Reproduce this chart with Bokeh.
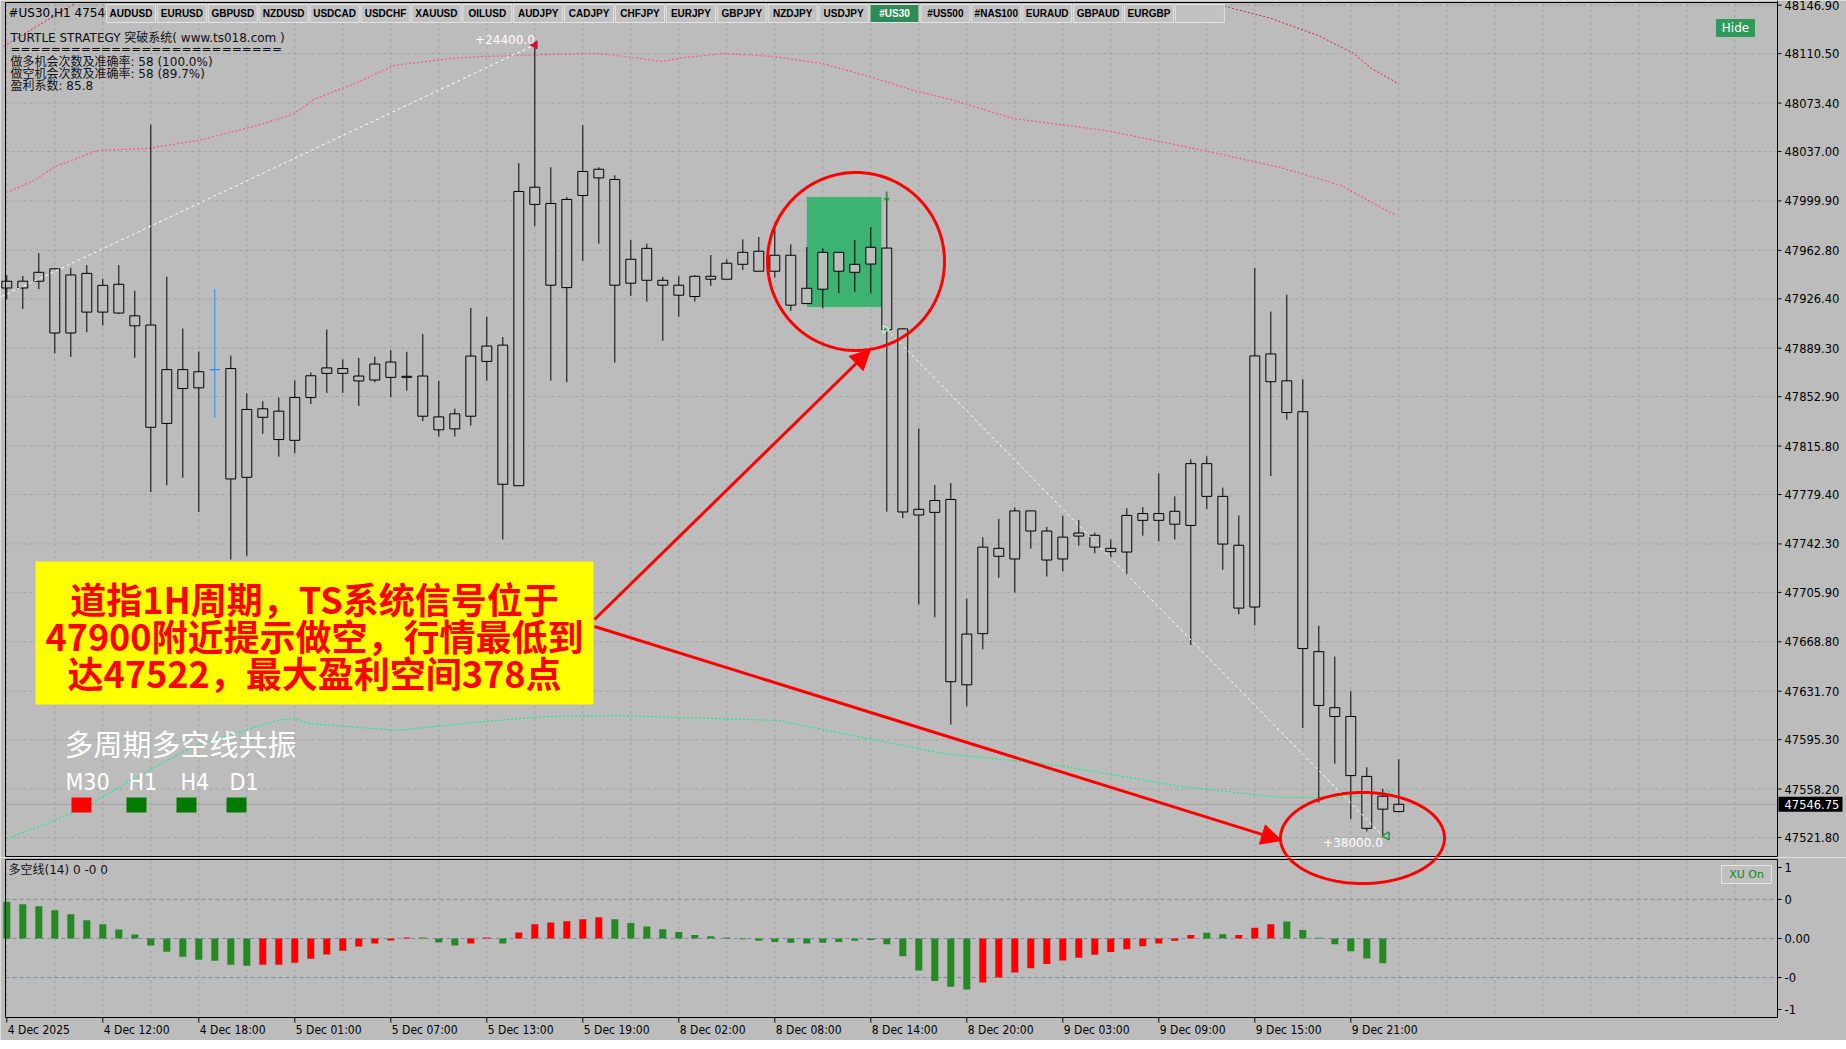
import numpy as np
from bokeh.plotting import figure
from bokeh.layouts import column
from bokeh.models import Range1d, BoxAnnotation, Label, Arrow, NormalHead, ColumnDataSource
from bokeh.core.properties import value
from bokeh.embed import file_html
from bokeh.resources import INLINE

# ---------------- data ----------------
opens = [47939.6, 47934.5, 47939.6, 47948.9, 47900.7, 47945.5, 47916.4, 47937.3, 47913.6, 47906.7,
         47832.8, 47873.2, 47859.5, 47873.2, 47874.0, 47792.3, 47843.8, 47842.0, 47820.1, 47852.3,
         47870.4, 47874.0, 47868.4, 47865.4, 47878.9, 47867.4, 47868.4, 47837.7, 47828.7, 47838.2,
         47879.4, 47891.6, 47786.0, 48010.2, 47998.0, 47934.8, 48004.0, 48023.7, 48016.0, 47938.1,
         47964.3, 47940.3, 47936.6, 47928.1, 47943.3, 47941.1, 47952.3, 47962.1, 47947.1, 47959.1,
         47922.8, 47933.6, 47961.3, 47946.3, 47952.5, 47964.5, 47903.8, 47764.0, 47766.0, 47775.7,
         47636.5, 47674.9, 47739.0, 47731.0, 47767.1, 47752.0, 47731.0, 47748.2, 47748.8, 47739.0,
         47736.2, 47760.0, 47765.1, 47757.1, 47756.2, 47802.6, 47778.0, 47741.3, 47694.9, 47885.0,
         47864.8, 47841.6, 47661.4, 47619.3, 47612.7, 47567.7, 47543.1, 47541.3]
highs = [47944.0, 47943.5, 47960.7, 47949.2, 47949.7, 47951.7, 47941.4, 47951.7, 47932.4, 48057.3,
         47943.0, 47904.1, 47886.8, 47933.7, 47883.7, 47855.4, 47849.5, 47852.3, 47865.2, 47871.1,
         47903.3, 47880.9, 47882.0, 47882.9, 47887.9, 47886.6, 47899.9, 47864.9, 47843.9, 47919.6,
         47912.9, 47897.7, 48028.2, 48117.1, 48025.2, 48002.8, 48056.7, 48025.2, 48019.2, 47970.5,
         47967.8, 47942.8, 47943.3, 47944.1, 47959.3, 47956.1, 47971.0, 47972.8, 47983.5, 47967.3,
         47965.3, 47964.3, 47961.3, 47970.5, 47980.3, 48002.0, 47904.1, 47829.0, 47786.6, 47788.0,
         47701.2, 47747.3, 47761.1, 47769.7, 47767.1, 47755.1, 47763.4, 47760.2, 47750.8, 47745.6,
         47769.1, 47770.0, 47795.2, 47778.0, 47805.8, 47808.1, 47784.6, 47763.7, 47949.6, 47916.8,
         47929.5, 47866.0, 47680.9, 47657.7, 47631.6, 47574.6, 47558.5, 47580.6]
lows = [47926.0, 47918.8, 47933.7, 47885.5, 47882.7, 47901.3, 47906.4, 47914.9, 47882.2, 47781.3,
        47786.4, 47792.1, 47766.3, 47837.1, 47730.6, 47733.4, 47825.0, 47807.8, 47810.4, 47847.4,
        47855.7, 47855.7, 47845.9, 47863.7, 47852.4, 47857.4, 47834.5, 47823.0, 47823.0, 47831.2,
        47864.9, 47745.6, 47786.0, 47981.0, 47864.9, 47863.7, 47954.8, 47967.8, 47878.6, 47928.6,
        47924.3, 47894.9, 47913.1, 47924.3, 47936.1, 47941.1, 47948.1, 47947.1, 47942.3, 47917.4,
        47922.8, 47919.1, 47930.6, 47931.6, 47930.4, 47766.5, 47761.7, 47696.9, 47687.2, 47606.7,
        47620.4, 47663.1, 47717.0, 47705.8, 47738.8, 47717.8, 47721.6, 47741.0, 47735.3, 47731.3,
        47718.7, 47748.5, 47744.2, 47745.6, 47666.4, 47768.6, 47723.0, 47689.5, 47681.2, 47793.3,
        47835.6, 47604.1, 47548.0, 47577.2, 47535.6, 47526.4, 47522.0, 47540.7]
closes = [47934.5, 47939.6, 47946.3, 47900.7, 47944.3, 47916.4, 47936.5, 47915.7, 47906.1, 47829.9,
          47873.2, 47859.0, 47871.6, 47873.2, 47791.1, 47843.3, 47837.4, 47820.7, 47852.3, 47868.6,
          47874.5, 47870.4, 47864.7, 47877.4, 47867.4, 47868.2, 47838.2, 47828.0, 47840.0, 47883.4,
          47890.9, 47787.1, 48007.0, 47997.3, 47936.6, 48001.0, 48022.0, 48017.2, 47936.6, 47956.1,
          47940.3, 47936.6, 47929.1, 47943.3, 47941.1, 47953.1, 47961.3, 47947.1, 47959.1, 47921.6,
          47934.3, 47961.3, 47947.1, 47952.3, 47965.1, 47903.2, 47766.3, 47768.3, 47774.9, 47638.8,
          47674.6, 47739.9, 47733.0, 47767.1, 47752.0, 47730.2, 47747.4, 47750.5, 47739.9, 47736.5,
          47763.7, 47765.1, 47760.0, 47766.8, 47802.6, 47778.0, 47742.2, 47694.1, 47883.5, 47864.1,
          47841.0, 47663.7, 47621.0, 47612.7, 47568.3, 47528.7, 47552.8, 47546.75]
candle_kind = ["n"] * 88
candle_kind[13] = "cursor"

last_price = 47546.75

price_ticks = [48146.90, 48110.50, 48073.40, 48037.00, 47999.90, 47962.80, 47926.40, 47889.30, 47852.90,
               47815.80, 47779.40, 47742.30, 47705.90, 47668.80, 47631.70, 47595.30, 47558.20, 47521.80]
time_labels = ["4 Dec 2025", "4 Dec 12:00", "4 Dec 18:00", "5 Dec 01:00", "5 Dec 07:00", "5 Dec 13:00",
               "5 Dec 19:00", "8 Dec 02:00", "8 Dec 08:00", "8 Dec 14:00", "8 Dec 20:00", "9 Dec 03:00",
               "9 Dec 09:00", "9 Dec 15:00", "9 Dec 21:00"]
time_label_idx = [0, 6, 12, 18, 24, 30, 36, 42, 48, 54, 60, 66, 72, 78, 84]
ind_ticks = [1.0, 0.55, 0.0, -0.55, -1.0]
ind_tick_labels = ["1", "0", "0.00", "-0", "-1"]
ind_levels = [0.55, 0.0, -0.55]

# upper (pink) and lower (green) channel lines, red outer line pieces
pink_x = [0, 1.67, 3.04, 5.67, 8.79, 12.1, 15.4, 17.9, 19.2, 21.9, 24.2, 27.7, 29.8, 33.9, 37.1, 39.6, 40.9,
          42.3, 44.9, 47.9, 51.0, 54.1, 56.7, 59.0, 62.9, 68.7, 74.8, 79.6, 83.4, 86.8]
pink_y = [48006.2, 48015.2, 48025.8, 48037.8, 48039.3, 48045.7, 48055.8, 48064.9, 48076.1, 48088.9, 48101.7,
          48106.9, 48108.4, 48109.9, 48110.6, 48106.9, 48104.6, 48107.6, 48110.6, 48108.4, 48103.1, 48092.6,
          48082.8, 48076.1, 48061.8, 48052.8, 48037.8, 48025.0, 48011.5, 47989.0]
green_x = [0, 1.71, 4.54, 7.73, 11.5, 13.4, 16.9, 18.0, 18.9, 24.3, 29.2, 33.7, 38.2, 48.2, 58.5, 65.8,
           73.4, 79.6, 83.8, 86.7]
green_y = [47521.1, 47528.6, 47542.1, 47564.6, 47589.4, 47596.9, 47609.7, 47611.2, 47607.4, 47602.2, 47608.2,
           47612.7, 47613.4, 47609.7, 47584.9, 47575.9, 47560.1, 47551.9, 47551.9, 47557.1]
redA_x = [-0.2, 4.3]
redA_y = [48116.0, 48148.5]
redB_x = [76.1, 79.0, 82.0, 84.2, 85.3, 86.9]
redB_y = [48146.0, 48137.1, 48123.9, 48110.6, 48099.3, 48088.5]

# trades
long_x = [-1.0, 33.0]
long_y = [47924.3, 48117.1]
short_x = [55.0, 86.0]
short_y = [47903.5, 47523.0]
signal_box = dict(left=50.0, right=54.67, bottom=47920.2, top=48002.8)

# indicator 多空线(14)
ind_vals = [0.517, 0.483, 0.455, 0.398, 0.341, 0.256, 0.199, 0.128, 0.057, -0.100,
            -0.185, -0.256, -0.299, -0.313, -0.370, -0.384, -0.370, -0.370, -0.341, -0.284,
            -0.227, -0.171, -0.114, -0.071, -0.028, 0.014, 0.014, -0.057, -0.100, -0.071,
            0.014, -0.071, 0.085, 0.199, 0.227, 0.242, 0.270, 0.299, 0.270, 0.22,
            0.17, 0.13, 0.09, 0.05, 0.03, 0.015, -0.01, -0.03, -0.05, -0.06,
            -0.07, -0.06, -0.05, -0.03, -0.02, -0.08, -0.25, -0.45, -0.60, -0.68,
            -0.72, -0.62, -0.55, -0.48, -0.42, -0.36, -0.31, -0.27, -0.23, -0.19,
            -0.15, -0.11, -0.07, -0.03, 0.05, 0.08, 0.06, 0.05, 0.15, 0.20,
            0.24, 0.12, 0.01, -0.08, -0.18, -0.28, -0.35, -0.42]
ind_dir = list("GGGGGGGGGGGGGGGGRRRRRRRRRRGGGRRGRRRRRRGG") + list("GGGGGGGGGGGGGGGGGGGGGRRRRRRRRRRRRRRGGRRRGGGGGGG")
ind_dir = ind_dir[:88]

symbols = ["AUDUSD", "EURUSD", "GBPUSD", "NZDUSD", "USDCAD", "USDCHF", "XAUUSD", "OILUSD", "AUDJPY",
           "CADJPY", "CHFJPY", "EURJPY", "GBPJPY", "NZDJPY", "USDJPY", "#US30", "#US500", "#NAS100",
           "EURAUD", "GBPAUD", "EURGBP", ""]
active_symbol = "#US30"

# ---------------- helpers (page pixel -> data, for overlays only) ----------------
def mx(xr):
    return (xr - 6.3) / 16.0

def my(yr):
    return 48146.9 - (yr - 4.7) / 1.3315

def iy(yr):
    return (938.0 - yr) / 71.0

BG = "#bcbcbc"
GRID = "#a3a3a3"
UIFONT = "DejaVu Sans, Noto Sans CJK SC"
CJK = "Noto Sans CJK SC"
NARROW = "Liberation Sans Narrow, DejaVu Sans Condensed, Liberation Sans"

W = 1846
MAIN_BOTTOM = 857
IND_BOTTOM = 1040
PL, PR = 5, 1777          # chart area left / right (px)

xr = Range1d(mx(0), mx(W))

# ---------------- main price panel ----------------
p = figure(width=W, height=MAIN_BOTTOM, x_range=xr, y_range=Range1d(my(MAIN_BOTTOM), my(0)),
           output_backend="svg", toolbar_location=None, x_axis_location=None, y_axis_location=None,
           min_border=0, background_fill_color=BG, border_fill_color=BG, outline_line_color=None)
p.xgrid.visible = False
p.ygrid.visible = False

grid_idx = [i for i in range(0, 112, 3) if mx(PL) <= i <= mx(PR)]
p.segment(x0=mx(PL), x1=mx(PR), y0=price_ticks, y1=price_ticks, line_color=GRID, line_dash="3 3")
p.segment(x0=grid_idx, x1=grid_idx, y0=my(3), y1=my(856), line_color=GRID, line_dash="3 3")

# signal box (behind candles)
p.quad(left=[signal_box["left"]], right=[signal_box["right"]], bottom=[signal_box["bottom"]],
       top=[signal_box["top"]], fill_color="#3cb371", line_color=None)

# channel lines
p.line(pink_x, pink_y, line_color="#ff5290", line_dash="2 2", line_width=1.2)
p.line(green_x, green_y, line_color="#00f58c", line_dash="2 2", line_width=1.1)
p.line(redA_x, redA_y, line_color="#e0204a", line_dash="2 2", line_width=1)
p.line(redB_x, redB_y, line_color="#e0204a", line_dash="2 2", line_width=1)

# current price line
p.segment(x0=[mx(PL)], x1=[mx(PR)], y0=[last_price], y1=[last_price], line_color="#a2a2a2", line_width=1)

# candles
idx = np.arange(len(opens))
o = np.array(opens); c = np.array(closes)
col = ["#1e90ff" if k == "cursor" else "black" for k in candle_kind]
src = ColumnDataSource(dict(x=idx, h=highs, l=lows, top=np.maximum(o, c), bot=np.minimum(o, c), col=col))
p.segment(x0="x", y0="l", x1="x", y1="h", line_color="col", line_width=1, source=src)
p.vbar(x="x", width=0.62, top="top", bottom="bot", fill_color=BG, line_color="col", line_width=1, source=src)

# trade lines & markers
p.line(long_x, long_y, line_color="white", line_dash="3 3", line_width=1)
p.line(short_x, short_y, line_color="white", line_dash="3 3", line_width=1)
p.scatter([long_x[1]], [long_y[1]], marker="triangle", angle=np.pi / 2, size=8, fill_color="#d0103a", line_color="#d0103a")
p.scatter([short_x[1] + 0.25], [short_y[1]], marker="triangle", angle=np.pi / 2, size=8, fill_color=None, line_color="#1a9a40", line_width=1.5)
p.scatter([short_x[0] - 0.1], [short_y[0]], marker="triangle", angle=-np.pi / 2, size=7, fill_color="#30c060", line_color="white")
p.text([55], [highs[55]], text=["↓"], text_align="center", text_baseline="bottom", text_color="#1a8a30",
       text_font=value("DejaVu Sans"), text_font_style="bold", text_font_size="13px", y_offset=6)
p.text([long_x[1]], [long_y[1]], text=["+24400.0"], text_align="right", text_baseline="bottom",
       text_color="white", text_font=value("DejaVu Sans"), text_font_size="12px", x_offset=0, y_offset=-1)
p.text([short_x[1]], [short_y[1]], text=["+38000.0"], text_align="right", text_baseline="top",
       text_color="white", text_font=value("DejaVu Sans"), text_font_size="12px", x_offset=0, y_offset=2)

# price axis (right) and main frame
p.segment(x0=[mx(PR)], x1=[mx(PR)], y0=[my(0)], y1=[my(856)], line_color="black")
p.segment(x0=[mx(PL)], x1=[mx(PL)], y0=[my(2)], y1=[my(856)], line_color="black")
p.segment(x0=[mx(PL)], x1=[mx(PR)], y0=[my(2)], y1=[my(2)], line_color="black")
p.segment(x0=[mx(PL)], x1=[mx(PR)], y0=[my(856)], y1=[my(856)], line_color="black")
p.segment(x0=mx(PR), x1=mx(PR + 4), y0=price_ticks, y1=price_ticks, line_color="black")
p.text(x=mx(PR + 7), y=price_ticks, text=["%.2f" % v for v in price_ticks], text_align="left",
       text_baseline="middle", text_color="black", text_font=value("DejaVu Sans"), text_font_size="11.5px")
p.quad(left=[mx(PR + 1)], right=[mx(PR + 65)], top=[last_price], bottom=[last_price], fill_color="black",
       line_color="black", line_width=15)
p.text(x=[mx(PR + 7)], y=[last_price], text=["%.2f" % last_price], text_align="left", text_baseline="middle",
       text_color="white", text_font=value("DejaVu Sans"), text_font_size="11.5px")

# top-left header text and symbol buttons
p.text([mx(8)], [my(12)], text=["#US30,H1  47546.75"], text_align="left", text_baseline="middle",
       text_color="black", text_font=value("DejaVu Sans"), text_font_size="12px")
bl = [106 + 50.9 * k for k in range(len(symbols))]
bsrc = ColumnDataSource(dict(
    left=[mx(v) for v in bl], right=[mx(v + 49) for v in bl],
    top=[my(4)] * len(bl), bottom=[my(22)] * len(bl),
    cx=[mx(v + 24.5) for v in bl], cy=[my(13)] * len(bl), name=symbols,
    fill=["#2e8b57" if s == active_symbol else "#c2c2c2" for s in symbols],
    tc=["white" if s == active_symbol else "black" for s in symbols]))
p.quad(left="left", right="right", top="top", bottom="bottom", fill_color="fill", line_color="#e4e4e4", source=bsrc)
p.text(x="cx", y="cy", text="name", text_align="center", text_baseline="middle", text_color="tc",
       text_font=value("Liberation Sans"), text_font_style="bold", text_font_size="10px", source=bsrc)

# Hide button
p.quad(left=[mx(1716)], right=[mx(1754)], top=[my(19)], bottom=[my(36)], fill_color="#2e9a5c", line_color="#2e9a5c")
p.text([mx(1735)], [my(27.5)], text=["Hide"], text_align="center", text_baseline="middle", text_color="white",
       text_font=value("DejaVu Sans"), text_font_size="12px")

# strategy statistics block
stats = ["TURTLE STRATEGY 突破系统(  www.ts018.com  )", "===========================",
         "做多机会次数及准确率: 58 (100.0%)", "做空机会次数及准确率: 58 (89.7%)", "盈利系数: 85.8"]
stats_y = [37, 48.5, 61, 73, 85]
for s, yy in zip(stats, stats_y):
    p.add_layout(Label(x=mx(10), y=my(yy), text=s, text_align="left", text_baseline="middle",
                       text_color="#111111", text_font=UIFONT, text_font_size="12px"))

# red ellipses
def ellipse_pts(cx, cy, rx, ry, fy):
    t = np.linspace(0, 2 * np.pi, 240)
    return [mx(cx + rx * np.cos(a)) for a in t], [fy(cy + ry * np.sin(a)) for a in t]

e1x, e1y = ellipse_pts(855.5, 261, 88.5, 89, my)
p.line(e1x, e1y, line_color="red", line_width=3)
e2x, e2y = ellipse_pts(1362, 837.5, 82, 45.5, my)
p.line(e2x, e2y, line_color="red", line_width=3)

# yellow annotation box
p.add_layout(BoxAnnotation(left=mx(35), right=mx(593), top=my(561), bottom=my(704),
                           fill_color="yellow", fill_alpha=1.0, line_color=None, level="annotation"))
notes = ["道指1H周期，TS系统信号位于", "47900附近提示做空，行情最低到", "达47522，最大盈利空间378点"]
for s, yy in zip(notes, [597, 634, 671]):
    p.add_layout(Label(x=mx(314), y=my(yy), text=s, text_align="center", text_baseline="middle",
                       text_color="red", text_font=CJK, text_font_style="bold", text_font_size="36px"))

# arrows
p.add_layout(Arrow(end=NormalHead(size=20, fill_color="red", line_color="red"), line_color="red", line_width=3,
                   x_start=mx(594), y_start=my(619), x_end=mx(870), y_end=my(349)))
p.add_layout(Arrow(end=NormalHead(size=20, fill_color="red", line_color="red"), line_color="red", line_width=3,
                   x_start=mx(594), y_start=my(626), x_end=mx(1281), y_end=my(840)))

# multi-timeframe panel
p.add_layout(Label(x=mx(64), y=my(742), text="多周期多空线共振", text_align="left", text_baseline="middle",
                   text_color="white", text_font=CJK, text_font_size="29px"))
tf_names = ["M30", "H1", "H4", "D1"]
tf_state = ["dn", "up", "up", "up"]
tf_lx = [65, 128, 180, 229]
tf_sq = [71, 126, 176, 226]
for nm, st, lx, sx in zip(tf_names, tf_state, tf_lx, tf_sq):
    p.add_layout(Label(x=mx(lx), y=my(781), text=nm, text_align="left", text_baseline="middle",
                       text_color="white", text_font=NARROW, text_font_size="23px"))
    p.add_layout(BoxAnnotation(left=mx(sx), right=mx(sx + 20), top=my(797), bottom=my(812),
                               fill_color="red" if st == "dn" else "#007a00", fill_alpha=1.0, line_color=None))

# ---------------- indicator panel ----------------
q = figure(width=W, height=IND_BOTTOM - MAIN_BOTTOM, x_range=xr, y_range=Range1d(iy(IND_BOTTOM), iy(MAIN_BOTTOM)),
           output_backend="svg", toolbar_location=None, x_axis_location=None, y_axis_location=None,
           min_border=0, background_fill_color=BG, border_fill_color=BG, outline_line_color=None)
q.xgrid.visible = False
q.ygrid.visible = False

q.segment(x0=grid_idx, x1=grid_idx, y0=iy(860), y1=iy(1016), line_color=GRID, line_dash="3 3")
q.segment(x0=mx(PL), x1=mx(PR), y0=ind_levels, y1=ind_levels, line_color="#7d8ca2", line_dash="4 3")

isrc = ColumnDataSource(dict(x=idx, v=ind_vals, col=["#228b22" if d == "G" else "#ff0000" for d in ind_dir]))
q.vbar(x="x", width=0.44, top="v", bottom=0, fill_color="col", line_color=None, source=isrc)

# frame of indicator panel and its axes
q.segment(x0=[mx(PL), mx(PL), mx(PL), mx(PR)], x1=[mx(PR), mx(PR), mx(PL), mx(PR)],
          y0=[iy(859), iy(1017), iy(859), iy(859)], y1=[iy(859), iy(1017), iy(1017), iy(1017)], line_color="black")
q.segment(x0=mx(PR), x1=mx(PR + 4), y0=ind_ticks, y1=ind_ticks, line_color="black")
q.text(x=mx(PR + 7), y=ind_ticks, text=ind_tick_labels, text_align="left", text_baseline="middle",
       text_color="black", text_font=value("DejaVu Sans"), text_font_size="11.5px")
q.segment(x0=time_label_idx, x1=time_label_idx, y0=iy(1017), y1=iy(1022), line_color="black")
q.text(x=time_label_idx, y=iy(1029), text=time_labels, text_align="left", text_baseline="middle", x_offset=1,
       text_color="black", text_font=value(NARROW), text_font_size="12px")

q.add_layout(Label(x=mx(8), y=iy(869), text="多空线(14) 0 -0 0", text_align="left", text_baseline="middle",
                   text_color="#111111", text_font=UIFONT, text_font_size="12px"))
q.quad(left=[mx(1721)], right=[mx(1771)], top=[iy(865)], bottom=[iy(883)], fill_color="#c0c0c0", line_color="#e6e6e6")
q.text([mx(1746)], [iy(874)], text=["XU On"], text_align="center", text_baseline="middle", text_color="#0a8a0a",
       text_font=value("DejaVu Sans"), text_font_size="11px")

# continuation of lower ellipse into indicator panel
e2qx, e2qy = ellipse_pts(1362, 837.5, 82, 45.5, iy)
q.line(e2qx, e2qy, line_color="red", line_width=3)

layout = column(p, q, spacing=0)
open("out.html", "w").write(file_html(layout, INLINE))
